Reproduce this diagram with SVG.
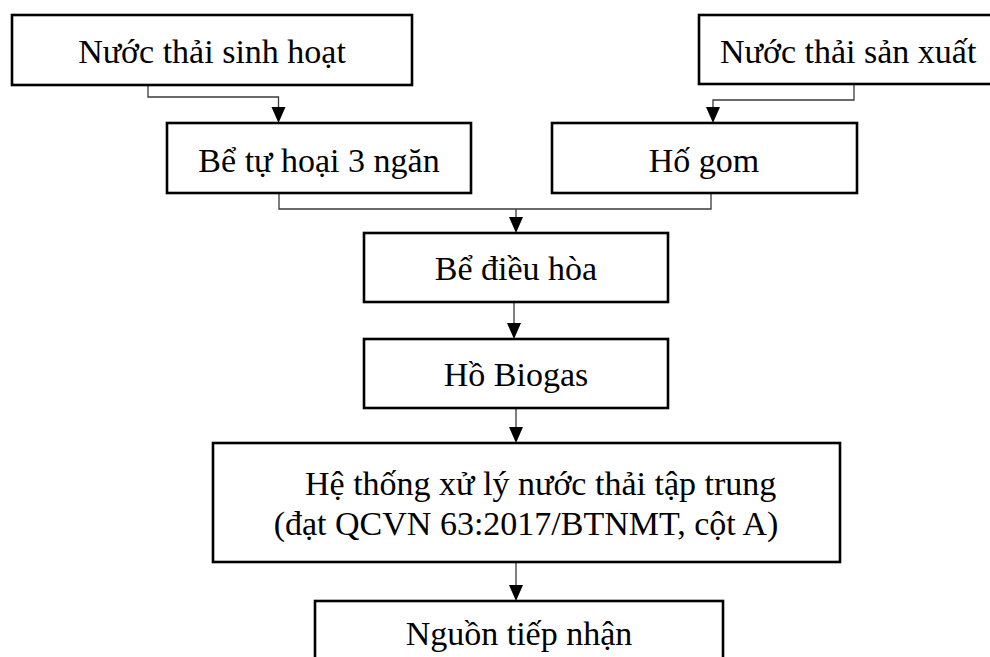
<svg xmlns="http://www.w3.org/2000/svg" width="990" height="657" viewBox="0 0 990 657">
  <style>
    .box { fill: #ffffff; stroke: #000000; stroke-width: 2.6; }
    .lbl { font-family: "Liberation Serif", "Times New Roman", serif; font-size: 34px; fill: #000000; }
    .mid { text-anchor: middle; }
    .wire { fill: none; stroke: #3a3a3a; stroke-width: 1.3; }
  </style>
  <defs>
    <marker id="arrow" viewBox="0 0 14 16" refX="7" refY="16" markerWidth="14" markerHeight="16" markerUnits="userSpaceOnUse" orient="auto-start-reverse">
      <path d="M0 0 L14 0 L7 16 Z" fill="#000000"/>
    </marker>
  </defs>

  <rect width="990" height="657" fill="#ffffff"/>

  <!-- flow connectors -->
  <g id="connectors">
    <path class="wire" d="M148 85 V97 H278.5 V107"/>
    <path d="M271.5 107 L285.5 107 L278.5 123 Z" fill="#000000"/>
    <path class="wire" d="M854 84 V100 H713 V107"/>
    <path d="M706 107 L720 107 L713 123 Z" fill="#000000"/>
    <path class="wire" d="M279 193 V209 H711 V193"/>
    <path class="wire" d="M516 209 V217"/>
    <path d="M509 217 L523 217 L516 233 Z" fill="#000000"/>
    <path class="wire" d="M514 302 V323"/>
    <path d="M507 323 L521 323 L514 339 Z" fill="#000000"/>
    <path class="wire" d="M516 408 V427"/>
    <path d="M509 427 L523 427 L516 443 Z" fill="#000000"/>
    <path class="wire" d="M516 562 V585"/>
    <path d="M509 585 L523 585 L516 601 Z" fill="#000000"/>
  </g>

  <g id="nuoc-thai-sinh-hoat">
    <rect class="box" x="12" y="15" width="400" height="70"/>
    <text class="lbl mid" x="212" y="63">Nước thải sinh hoạt</text>
  </g>

  <g id="nuoc-thai-san-xuat">
    <rect class="box" x="699" y="15" width="300" height="69"/>
    <text class="lbl" x="720" y="63">Nước thải sản xuất</text>
  </g>

  <g id="be-tu-hoai">
    <rect class="box" x="167" y="123" width="304" height="70"/>
    <text class="lbl mid" x="319" y="172">Bể tự hoại 3 ngăn</text>
  </g>

  <g id="ho-gom">
    <rect class="box" x="552" y="123" width="305" height="70"/>
    <text class="lbl mid" x="704" y="172">Hố gom</text>
  </g>

  <g id="be-dieu-hoa">
    <rect class="box" x="364" y="233" width="304" height="69"/>
    <text class="lbl mid" x="516" y="280">Bể điều hòa</text>
  </g>

  <g id="ho-biogas">
    <rect class="box" x="364" y="339" width="304" height="69"/>
    <text class="lbl mid" x="516" y="386">Hồ Biogas</text>
  </g>

  <g id="he-thong-xu-ly">
    <rect class="box" x="213" y="443" width="627" height="119"/>
    <text class="lbl" x="305" y="495">Hệ thống xử lý nước thải tập trung</text>
    <text class="lbl mid" x="526" y="535">(đạt QCVN 63:2017/BTNMT, cột A)</text>
  </g>

  <g id="nguon-tiep-nhan">
    <rect class="box" x="315" y="601" width="408" height="70"/>
    <text class="lbl mid" x="519" y="645">Nguồn tiếp nhận</text>
  </g>
</svg>
